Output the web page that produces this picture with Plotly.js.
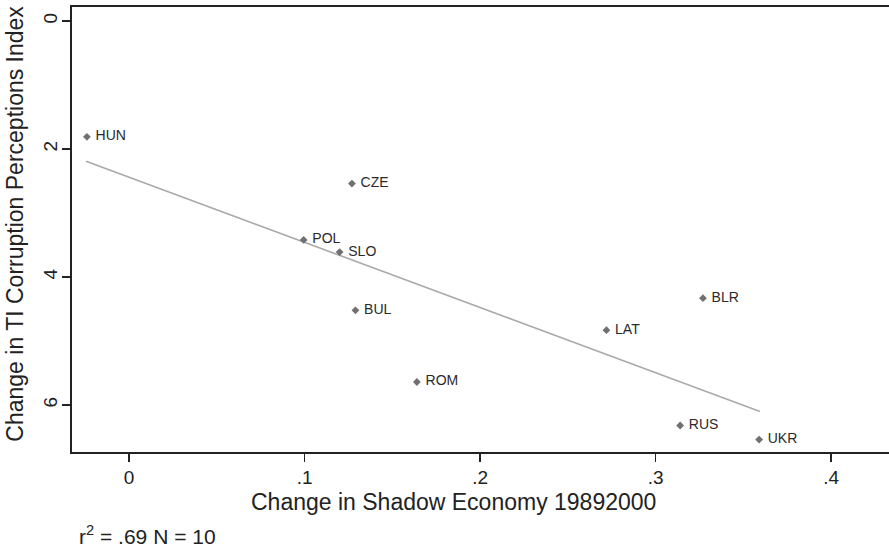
<!DOCTYPE html>
<html>
<head>
<meta charset="utf-8">
<script src="https://cdn.plot.ly/plotly-3.0.1.min.js"></script>
<style>html,body{margin:0;padding:0;background:#fff;}</style>
</head>
<body>
<div id="chart" style="width:889px;height:550px;"></div>
<script>
// Data
const countries = ['HUN','CZE','POL','SLO','BUL','ROM','LAT','BLR','RUS','UKR'];
const shadowChange = [-0.024, 0.127, 0.0995, 0.120, 0.129, 0.164, 0.272, 0.327, 0.314, 0.359];
const cpiChange = [1.81, 2.54, 3.42, 3.61, 4.52, 5.64, 4.83, 4.33, 6.32, 6.54];
const fitX = [-0.0245, 0.3595];
const fitY = [2.19, 6.10];
const xTickVals = [0, 0.1, 0.2, 0.3, 0.4];
const xTickText = ['0', '.1', '.2', '.3', '.4'];
const yTickVals = [0, 2, 4, 6];
const yTickText = ['0', '2', '4', '6'];

const FONT = 'Liberation Sans, Arial, Helvetica, sans-serif';

const traces = [
  {
    x: fitX, y: fitY, type: 'scatter', mode: 'lines',
    line: {color: '#aaaaaa', width: 1.6},
    hoverinfo: 'skip', showlegend: false
  },
  {
    x: shadowChange, y: cpiChange, type: 'scatter', mode: 'markers+text',
    text: countries.map(c => ' ' + c), textposition: 'middle right',
    textfont: {family: FONT, size: 14, color: '#2a2a2a'},
    marker: {symbol: 'diamond', size: 6, color: '#707070'},
    showlegend: false
  }
];

const layout = {
  width: 889, height: 550,
  margin: {l: 72, r: 0, t: 7, b: 98},
  paper_bgcolor: '#ffffff', plot_bgcolor: '#ffffff',
  font: {family: FONT, color: '#222222'},
  showlegend: false,
  xaxis: {
    range: [-0.0325, 0.433],
    tickvals: xTickVals, ticktext: xTickText,
    showgrid: false, zeroline: false,
    showline: true, linecolor: '#222222', linewidth: 2, mirror: true,
    ticks: 'outside', ticklen: 8, tickwidth: 1.5, tickcolor: '#222222',
    ticklabelstandoff: -1,
    tickfont: {family: FONT, size: 19, color: '#222222'}
  },
  yaxis: {
    range: [6.734, -0.219],
    tickvals: yTickVals, ticktext: yTickText, tickangle: -90,
    showgrid: false, zeroline: false,
    showline: true, linecolor: '#222222', linewidth: 2,
    ticks: 'outside', ticklen: 8, tickwidth: 1.5, tickcolor: '#222222',
    ticklabelstandoff: -3,
    tickfont: {family: FONT, size: 19, color: '#222222'}
  },
  annotations: [
    {
      text: 'Change in Shadow Economy 19892000',
      xref: 'paper', yref: 'paper', x: 0.467, y: -0.112,
      xanchor: 'center', yanchor: 'middle', showarrow: false,
      font: {family: FONT, size: 23, color: '#222222'}
    },
    {
      text: 'Change in TI Corruption Perceptions Index',
      xref: 'paper', yref: 'paper', x: -0.0698, y: 0.513,
      xanchor: 'center', yanchor: 'middle', textangle: -90, showarrow: false,
      font: {family: FONT, size: 23, color: '#222222'}
    },
    {
      text: 'r<sup>2</sup> = .69 N = 10',
      xref: 'paper', yref: 'paper', x: 0.006, y: -0.187,
      xanchor: 'left', yanchor: 'middle', showarrow: false,
      font: {family: FONT, size: 21, color: '#222222'}
    }
  ]
};

Plotly.newPlot('chart', traces, layout, {displayModeBar: false, staticPlot: true});
</script>
</body>
</html>
